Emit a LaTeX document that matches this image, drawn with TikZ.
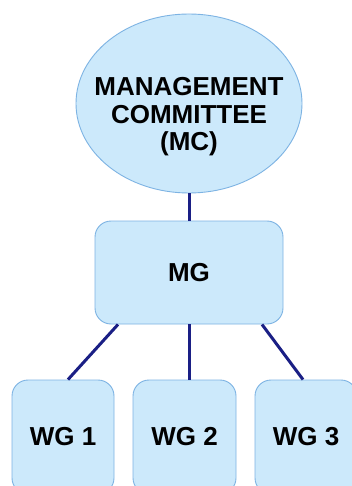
\documentclass[tikz,border=0pt]{standalone}
\usepackage{fontspec}
\setmainfont{Liberation Sans}
\usepackage{xcolor}
\usepackage{tikz}
\usetikzlibrary{shapes, arrows, positioning, fit}

\definecolor{boxfill}{HTML}{CCE9FB}
\definecolor{boxline}{HTML}{7DB3E3}
\definecolor{linknavy}{HTML}{1A1F85}

\begin{document}
\begin{tikzpicture}[
            x=1pt, y=-1pt,
            comm/.style={ellipse, draw=boxline, fill=boxfill, line width=0.9pt, minimum width=226pt, minimum height=179pt, inner sep=0pt},
            group/.style={rectangle, rounded corners=16pt, draw=boxline, fill=boxfill, line width=0.9pt, inner sep=0pt, font=\fontsize{26}{27}\selectfont\bfseries},
            caption/.style={align=center, inner sep=0pt, font=\fontsize{26}{27.5}\selectfont\bfseries},
            link/.style={-, draw=linknavy, line width=3pt}
        ]
            \clip (0,0) rectangle (352,486);
            \fill[white] (0,0) rectangle (352,486);

            \node[comm] (mc) at (189,103.5) {};
            \node[caption] (mctext) at (189,117) {MANAGEMENT\\COMMITTEE\\(MC)};

            \node[group, minimum width=188pt, minimum height=103pt] (mg) at (189,272.5) {MG};

            \node[group, minimum width=102pt, minimum height=114pt] (wg1) at (63,437)  {WG 1};
            \node[group, minimum width=103pt, minimum height=114pt] (wg2) at (184.5,437) {WG 2};
            \node[group, minimum width=102pt, minimum height=114pt] (wg3) at (306,437) {WG 3};

            \draw[link] (mc.south) -- (mg.north);
            \draw[link] ([xshift=-71pt]mg.south) -- ([xshift=5pt]wg1.north);
            \draw[link] (mg.south) -- (mg.south |- wg2.north);
            \draw[link] ([xshift=73pt]mg.south) -- ([xshift=-3pt]wg3.north);
        \end{tikzpicture}
\end{document}
